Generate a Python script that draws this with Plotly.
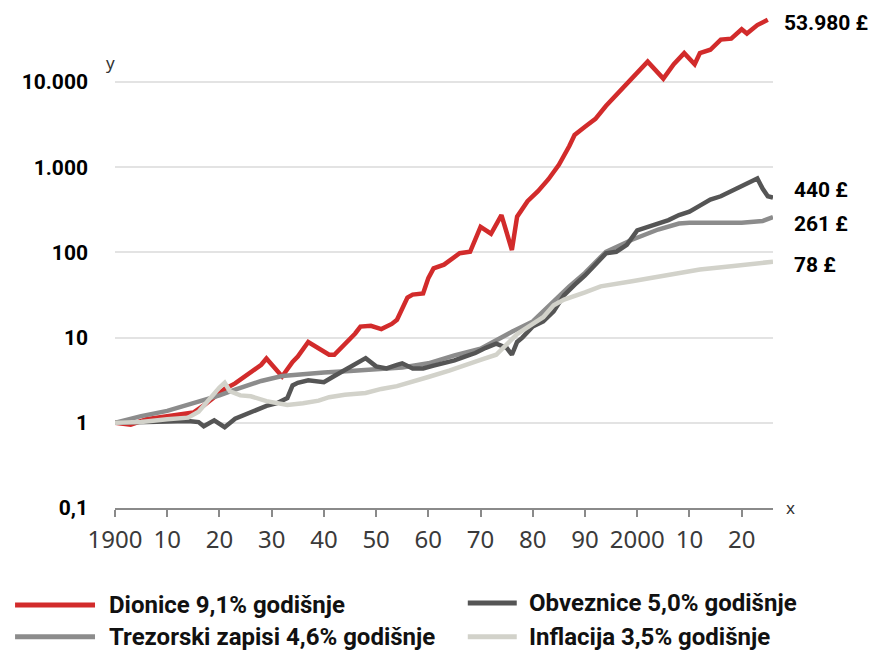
import math
import plotly.graph_objects as go

# ---------------- data ----------------
years_dionice = [1900, 1903, 1906, 1910, 1913, 1915, 1917, 1919, 1921, 1923, 1926, 1928,
                 1929, 1932, 1934, 1935, 1937, 1939, 1941, 1942, 1944, 1946, 1947, 1949,
                 1951, 1953, 1954, 1956, 1957, 1959, 1960, 1961, 1963, 1965, 1966, 1968,
                 1970, 1972, 1974, 1976, 1977, 1979, 1981, 1983, 1985, 1987, 1988, 1990,
                 1992, 1994, 1996, 1998, 2000, 2002, 2005, 2007, 2009, 2011, 2012, 2014,
                 2016, 2018, 2020, 2021, 2023, 2025]
dionice = [1.0, 0.95, 1.1, 1.2, 1.26, 1.32, 1.6, 2.0, 2.5, 2.9, 4.0, 4.8,
           5.7, 3.5, 5.2, 6.0, 8.9, 7.6, 6.3, 6.3, 8.3, 11.2, 13.5, 13.8,
           12.6, 14.5, 16.2, 29.5, 32, 33, 50, 65, 72, 89, 98, 102,
           200, 166, 275, 107, 263, 400, 525, 725, 1070, 1780, 2400, 3000,
           3700, 5250, 7100, 9550, 13200, 17400, 11000, 16200, 21900, 16200, 21900, 24000,
           31600, 32400, 41700, 37200, 46800, 53980]

years_obveznice = [1900, 1905, 1910, 1914, 1916, 1917, 1919, 1921, 1923, 1926, 1929, 1931,
                   1933, 1934, 1935, 1937, 1940, 1942, 1944, 1946, 1948, 1950, 1952, 1954,
                   1955, 1957, 1959, 1961, 1963, 1965, 1967, 1969, 1971, 1973, 1975, 1976,
                   1977, 1978, 1980, 1982, 1984, 1986, 1988, 1990, 1992, 1994, 1996, 1998,
                   2000, 2002, 2004, 2006, 2008, 2010, 2012, 2014, 2016, 2018, 2020, 2021,
                   2023, 2024, 2025, 2026]
obveznice = [1.0, 1.02, 1.05, 1.05, 1.02, 0.91, 1.07, 0.89, 1.12, 1.35, 1.58, 1.7,
             1.95, 2.75, 2.95, 3.16, 3.0, 3.55, 4.2, 4.8, 5.75, 4.6, 4.35, 4.8,
             5.0, 4.35, 4.35, 4.7, 5.0, 5.4, 6.0, 6.6, 7.6, 8.5, 7.6, 6.3,
             8.9, 10, 13.5, 15.5, 20.4, 31.6, 41.7, 53.7, 72.4, 97.7, 102, 123,
             182, 200, 219, 240, 275, 302, 355, 417, 457, 525, 617, 661,
             741, 562, 457, 440]

years_trezorski = [1900, 1905, 1910, 1915, 1920, 1923, 1928, 1932, 1935, 1940, 1945, 1950,
                   1955, 1960, 1965, 1970, 1974, 1976, 1980, 1984, 1987, 1990, 1994, 1999,
                   2004, 2008, 2010, 2015, 2020, 2024, 2026]
trezorski = [1.0, 1.2, 1.38, 1.7, 2.1, 2.45, 3.1, 3.55, 3.7, 3.9, 4.07, 4.27,
             4.47, 5.0, 6.2, 7.4, 10.2, 11.7, 15.5, 27, 40, 57.5, 102, 141,
             186, 219, 224, 224, 224, 234, 261]

years_inflacija = [1900, 1905, 1910, 1914, 1916, 1918, 1920, 1921, 1922, 1924, 1926, 1929,
                   1933, 1936, 1939, 1941, 1944, 1948, 1951, 1954, 1957, 1960, 1964, 1967,
                   1970, 1973, 1975, 1977, 1980, 1982, 1984, 1986, 1990, 1993, 1999, 2005,
                   2012, 2018, 2022, 2024, 2026]
inflacija = [1.0, 1.02, 1.1, 1.15, 1.35, 1.9, 2.6, 2.95, 2.35, 2.1, 2.05, 1.8,
             1.62, 1.7, 1.82, 2.0, 2.14, 2.24, 2.5, 2.7, 3.1, 3.45, 4.1, 4.8,
             5.5, 6.3, 8.3, 11, 14.5, 17.4, 24, 28, 34, 40, 46, 52.5,
             63, 69, 72.4, 76, 78]

series_names = ["Dionice 9,1% godišnje", "Obveznice 5,0% godišnje",
                "Trezorski zapisi 4,6% godišnje", "Inflacija 3,5% godišnje"]
end_labels = ["53.980 £", "440 £", "261 £", "78 £"]

x_tickvals = [1900, 1910, 1920, 1930, 1940, 1950, 1960, 1970, 1980, 1990, 2000, 2010, 2020]
x_ticktext = ["1900", "10", "20", "30", "40", "50", "60", "70", "80", "90", "2000", "10", "20"]
y_tickvals = [0.1, 1, 10, 100, 1000, 10000]
y_ticktext = ["0,1", "1", "10", "100", "1.000", "10.000"]

# ---------------- styling ----------------
C_RED = "#d22b2b"
C_DARK = "#555555"
C_MID = "#8c8c8c"
C_LIGHT = "#d2d2ca"

W_FIG, H_FIG = 880, 661
L, R, T, B = 115, 773.4, 13.5, 508
PW, PH = R - L, B - T


def px(x):
    return (x - L) / PW


def py(y):
    return (B - y) / PH


fig = go.Figure()
traces = [
    (years_dionice, dionice, C_RED),
    (years_trezorski, trezorski, C_MID),
    (years_obveznice, obveznice, C_DARK),
    (years_inflacija, inflacija, C_LIGHT),
]
for xs, ys, col in traces:
    fig.add_trace(go.Scatter(x=xs, y=ys, mode="lines",
                             line=dict(color=col, width=4.5),
                             showlegend=False, hoverinfo="skip"))

annotations = []
# end labels
end_specs = [
    (years_dionice, dionice, end_labels[0], 14, -3.5),
    (years_obveznice, obveznice, end_labels[1], 18.6, 7.4),
    (years_trezorski, trezorski, end_labels[2], 18.6, -7.3),
    (years_inflacija, inflacija, end_labels[3], 18.6, -3.6),
]
for xs, ys, txt, xs_, ys_ in end_specs:
    annotations.append(dict(x=xs[-1], y=math.log10(ys[-1]), xref="x", yref="y",
                            text=txt, showarrow=False, xanchor="left", yanchor="middle",
                            xshift=xs_, yshift=ys_,
                            font=dict(family="Roboto", size=21, color="#000000", weight="bold")))

# axis letters
annotations.append(dict(x=px(110), y=py(62), xref="paper", yref="paper", text="y",
                        showarrow=False, xanchor="center", yanchor="middle",
                        font=dict(family="Noto Sans", size=17, color="#333333")))
annotations.append(dict(x=px(791), y=py(507), xref="paper", yref="paper", text="x",
                        showarrow=False, xanchor="center", yanchor="middle",
                        font=dict(family="Noto Sans", size=17, color="#333333")))

# custom legend
shapes = []
legend_items = [
    (series_names[0], C_RED, 15, 95, 107, 605),
    (series_names[1], C_DARK, 468, 517, 527, 603),
    (series_names[2], C_MID, 15, 95, 107, 637),
    (series_names[3], C_LIGHT, 468, 517, 527, 637),
]
for name, col, x0, x1, tx, yy in legend_items:
    shapes.append(dict(type="line", xref="paper", yref="paper",
                       x0=px(x0), x1=px(x1), y0=py(yy), y1=py(yy),
                       line=dict(color=col, width=5)))
    annotations.append(dict(x=px(tx), y=py(yy), xref="paper", yref="paper", text=name,
                            showarrow=False, xanchor="left", yanchor="middle",
                            font=dict(family="Roboto", size=24, color="#111111", weight="bold")))

fig.update_layout(
    width=W_FIG, height=H_FIG,
    margin=dict(l=L, r=W_FIG - R, t=T, b=H_FIG - B, pad=0),
    paper_bgcolor="white", plot_bgcolor="white",
    showlegend=False,
    annotations=annotations,
    shapes=shapes,
    xaxis=dict(range=[1900, 2026], tickmode="array", tickvals=x_tickvals, ticktext=x_ticktext,
               showgrid=False, zeroline=False, showline=True, linecolor="#8a8a8a", linewidth=2,
               ticks="outside", ticklen=7, tickwidth=2, tickcolor="#8a8a8a",
               tickfont=dict(family="Noto Sans", size=24, color="#3a3a3a"),
               ticklabelstandoff=2),
    yaxis=dict(type="log", range=[-1, 4.8], tickmode="array", tickvals=y_tickvals,
               ticktext=y_ticktext, showgrid=True, gridcolor="#e3e3e3", gridwidth=1.5,
               zeroline=False, showline=False, ticks="",
               tickfont=dict(family="Roboto", size=21, color="#000000", weight="bold"),
               ticklabelstandoff=26),
)

fig.write_html("out.html", config={"displayModeBar": False},
               post_script="document.body.style.margin='0';document.body.style.overflow='hidden';")
